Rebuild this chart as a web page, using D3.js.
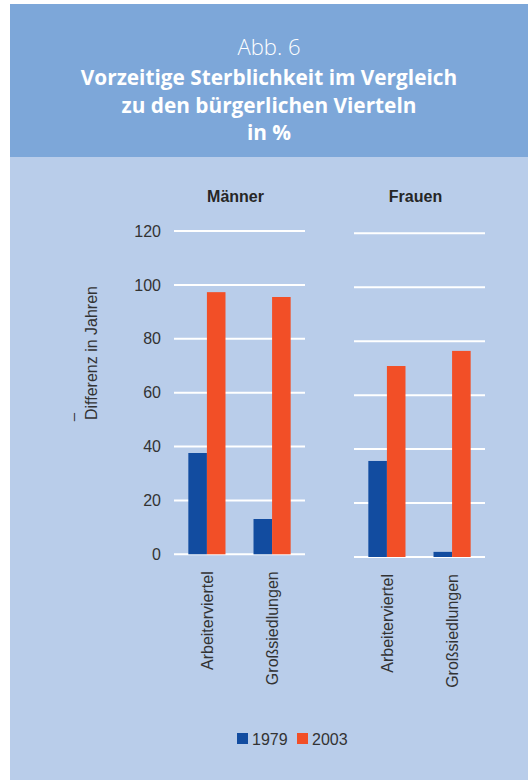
<!DOCTYPE html>
<html>
<head>
<meta charset="utf-8">
<script src="https://cdn.jsdelivr.net/npm/d3@7/dist/d3.min.js"></script>
<style>
  html, body { margin: 0; padding: 0; background: #ffffff; }
  svg { display: block; }
</style>
</head>
<body>
<svg id="chart" width="528" height="780"></svg>
<script>
// Kategorien, Reihen und Werte
const panels = ["Männer", "Frauen"];
const categories = ["Arbeiterviertel", "Großsiedlungen"];
const years = ["1979", "2003"];
const maenner1979 = [37.6, 13.1];
const maenner2003 = [97.3, 95.5];
const frauen1979 = [35.6, 1.9];
const frauen2003 = [70.8, 76.4];
const yTicks = [0, 20, 40, 60, 80, 100, 120];

const titleLines = ["Vorzeitige Sterblichkeit im Vergleich", "zu den bürgerlichen Vierteln", "in %"];
const yTitle = "Differenz in Jahren";

const colors = { "1979": "#124ca0", "2003": "#f24f27" };
const headerFill = "#7da7d9";
const bodyFill = "#b9cdea";
const chartFont = "'Liberation Sans', Arial, sans-serif";
const titleFont = "'Open Sans', 'Noto Sans', sans-serif";
const fs = 16;

const svg = d3.select("#chart");

// Hintergrundflächen
svg.append("rect").attr("x", 10).attr("y", 4).attr("width", 518).attr("height", 153).attr("fill", headerFill);
svg.append("rect").attr("x", 10).attr("y", 157).attr("width", 518).attr("height", 623).attr("fill", bodyFill);

// Überschrift
const cx = 269;
svg.append("text").attr("x", cx).attr("y", 55)
  .attr("text-anchor", "middle").attr("fill", "#ffffff")
  .attr("font-family", titleFont).attr("font-size", 22).attr("font-weight", 300)
  .text("Abb. 6");
titleLines.forEach((line, i) => {
  svg.append("text").attr("x", cx).attr("y", 85 + i * 27.5)
    .attr("text-anchor", "middle").attr("fill", "#ffffff")
    .attr("font-family", titleFont).attr("font-size", 20.8).attr("font-weight", 700)
    .text(line);
});

// Panels: Männer links, Frauen rechts
const panelDefs = [
  { name: panels[0], x0: 174, x1: 305, yZero: 554.3, yTop: 231, v1979: maenner1979, v2003: maenner2003, showAxis: true },
  { name: panels[1], x0: 354, x1: 485, yZero: 557, yTop: 233.3, v1979: frauen1979, v2003: frauen2003, showAxis: false }
];

panelDefs.forEach(p => {
  const g = svg.append("g");
  const y = d3.scaleLinear().domain([0, 120]).range([p.yZero, p.yTop]);
  const x = d3.scaleBand().domain(categories).range([p.x0, p.x1]).paddingInner(0.43).paddingOuter(0.22);
  const xs = d3.scaleBand().domain(years).range([0, x.bandwidth()]).padding(0);

  // Gitterlinien
  g.selectAll("line.grid").data(yTicks).join("line")
    .attr("x1", p.x0).attr("x2", p.x1)
    .attr("y1", d => y(d)).attr("y2", d => y(d))
    .attr("stroke", "#ffffff").attr("stroke-width", 2);

  // Achsenbeschriftung
  if (p.showAxis) {
    const axis = d3.axisLeft(y).tickValues(yTicks).tickSize(0).tickPadding(0);
    const ag = g.append("g").attr("transform", `translate(${p.x0 - 13},0)`).call(axis);
    ag.select(".domain").remove();
    ag.selectAll("text").attr("font-family", chartFont).attr("font-size", fs).attr("fill", "#333333");
  }

  // Balken
  const rows = categories.map((c, i) => ({ cat: c, vals: [ { year: "1979", v: p.v1979[i] }, { year: "2003", v: p.v2003[i] } ] }));
  const grp = g.selectAll("g.cat").data(rows).join("g")
    .attr("transform", d => `translate(${x(d.cat)},0)`);
  grp.selectAll("rect").data(d => d.vals).join("rect")
    .attr("x", d => xs(d.year))
    .attr("width", xs.bandwidth())
    .attr("y", d => y(d.v))
    .attr("height", d => y(0) - y(d.v))
    .attr("fill", d => colors[d.year]);

  // Kategorien (gedreht)
  categories.forEach(c => {
    const tx = x(c) + x.bandwidth() / 2;
    const ty = p.yZero + 17;
    g.append("text")
      .attr("transform", `translate(${tx + 6},${ty}) rotate(-90)`)
      .attr("text-anchor", "end")
      .attr("font-family", chartFont).attr("font-size", fs).attr("fill", "#333333")
      .text(c);
  });

  // Panel-Titel
  g.append("text").attr("x", (p.x0 + p.x1) / 2 - 4).attr("y", 202)
    .attr("text-anchor", "middle")
    .attr("font-family", chartFont).attr("font-size", fs).attr("font-weight", 700).attr("fill", "#262626")
    .text(p.name);
});

// Y-Achsentitel
svg.append("text")
  .attr("transform", "translate(97,353) rotate(-90)")
  .attr("text-anchor", "middle")
  .attr("font-family", chartFont).attr("font-size", fs).attr("fill", "#333333")
  .text(yTitle);
svg.append("text")
  .attr("transform", "translate(78,417) rotate(-90)")
  .attr("text-anchor", "middle")
  .attr("font-family", chartFont).attr("font-size", 15).attr("fill", "#333333")
  .text("–");

// Legende
const legend = svg.append("g");
const legendX = [237, 297];
years.forEach((yr, i) => {
  legend.append("rect").attr("x", legendX[i]).attr("y", 733).attr("width", 11).attr("height", 11).attr("fill", colors[yr]);
  legend.append("text").attr("x", legendX[i] + 15).attr("y", 744.5)
    .attr("font-family", chartFont).attr("font-size", fs).attr("fill", "#333333")
    .text(yr);
});
</script>
</body>
</html>
